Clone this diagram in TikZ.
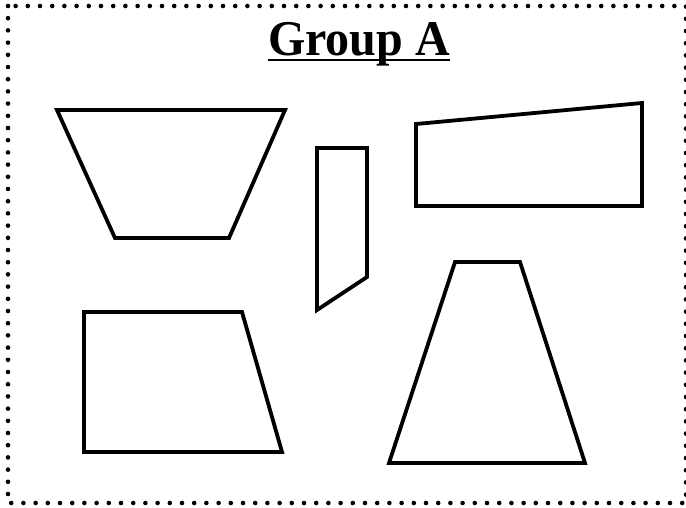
\documentclass[tikz,border=0pt]{standalone}
\usepackage{fontspec}
\usepackage{graphicx}
\setmainfont{Liberation Serif}
\usetikzlibrary{calc}

\tikzset{
    outline/.style={draw,line width=3.8pt,line join=miter},
    dotframe/.style={line width=4.6pt,line cap=round,dash pattern=on 0pt off 12.2pt}
}

\begin{document}
\begin{tikzpicture}[x=1pt,y=-1pt]
    \useasboundingbox (0,0) rectangle (686,507);
    \draw[dotframe] (8,6) rectangle (686,503);
    \node[anchor=base,inner sep=0pt,font=\fontsize{50}{60}\selectfont\bfseries]
        (title) at (359,55) {\scalebox{0.96}[1]{Group A}};
    \draw[line width=2pt]
        ($(title.base west)+(0,5)$) -- ($(title.base east)+(0,5)$);
    % the five shapes
    \draw[outline] (57,110) -- (285,110) -- (229,238) -- (115,238) -- cycle;
    \draw[outline] (317,148) -- (367,148) -- (367,277) -- (317,310) -- cycle;
    \draw[outline] (416,124) -- (642,103) -- (642,206) -- (416,206) -- cycle;
    \draw[outline] (84,312) -- (242,312) -- (282,452) -- (84,452) -- cycle;
    \draw[outline] (455,262) -- (520,262) -- (585,463) -- (389,463) -- cycle;
\end{tikzpicture}
\end{document}
